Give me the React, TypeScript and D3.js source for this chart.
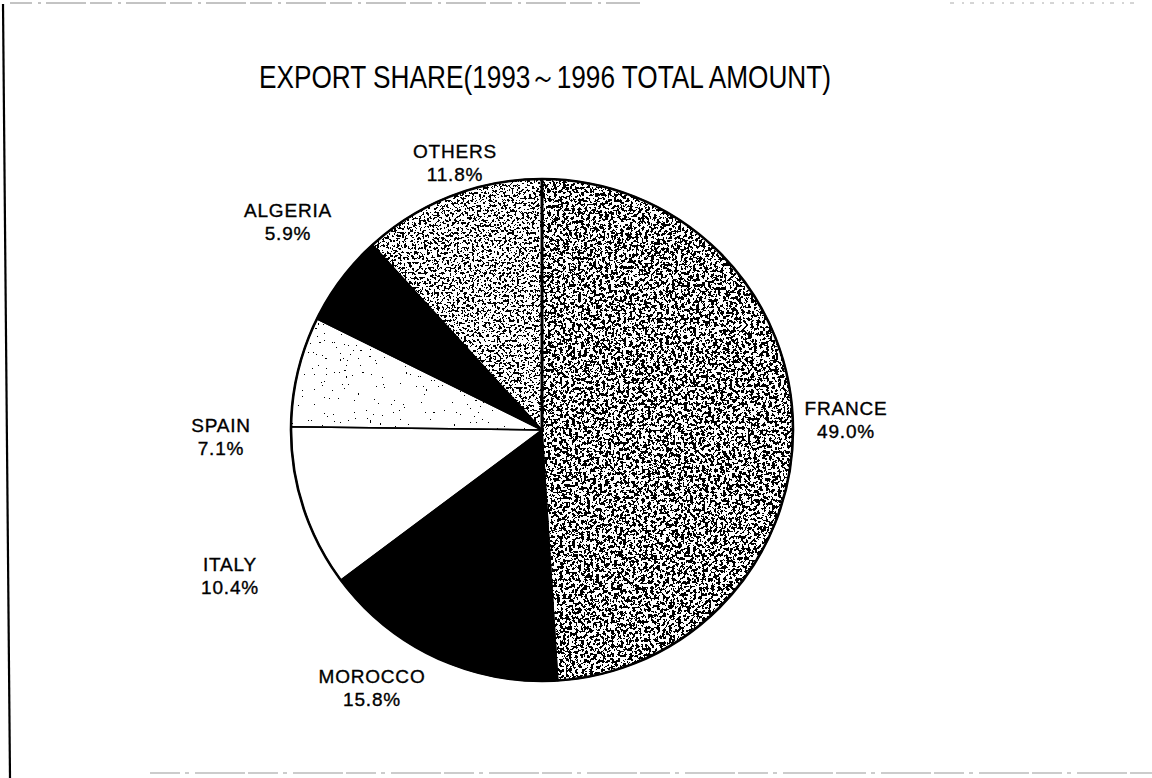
import React from "react";
import * as d3 from "d3";

const categories = ["FRANCE", "MOROCCO", "ITALY", "SPAIN", "ALGERIA", "OTHERS"];
const shares = [49.0, 15.8, 10.4, 7.1, 5.9, 11.8];
const titleText = "EXPORT SHARE(1993～1996 TOTAL AMOUNT)";

// layout / style (not data)
const W = 1152;
const H = 778;
const CX = 542;
const CY = 430;
const R = 251;
// label anchor offsets from pie centre (first line baseline)
const labelOffsets: [number, number][] = [
  [304, -15],
  [-170, 253],
  [-312, 141],
  [-321, 2],
  [-254, -213],
  [-87, -272],
];
type SliceStyle = { fill: string; texture?: { th: number; freq: number; oct: number; seed: number } };
const sliceStyles: SliceStyle[] = [
  { fill: "#ffffff", texture: { th: 0.52, freq: 0.33, oct: 3, seed: 4 } },
  { fill: "#000000" },
  { fill: "#ffffff" },
  { fill: "#ffffff", texture: { th: 0.74, freq: 0.5, oct: 2, seed: 9 } },
  { fill: "#000000" },
  { fill: "#ffffff", texture: { th: 0.55, freq: 0.4, oct: 3, seed: 11 } },
];

function tableFor(th: number): string {
  const n = 50;
  const v: number[] = [];
  for (let i = 0; i < n; i++) v.push(i / n >= th ? 1 : 0);
  return v.join(" ");
}

export default function App() {
  const pie = d3
    .pie<number>()
    .sort(null)
    .startAngle(0)
    .endAngle(2 * Math.PI)
    .value((d) => d);
  const arcs = pie(shares);
  const arc = d3.arc<d3.PieArcDatum<number>>().innerRadius(0).outerRadius(R);
  const fmt = (v: number) => d3.format(".1f")(v) + "%";
  const labelFont = "'Liberation Sans', Arial, sans-serif";

  return (
    <svg
      width={W}
      height={H}
      viewBox={`0 0 ${W} ${H}`}
      style={{ position: "absolute", left: 0, top: 0, background: "#fff" }}
    >
      <defs>
        {sliceStyles.map((s, i) =>
          s.texture ? (
            <filter
              key={i}
              id={`tex${i}`}
              x="0"
              y="0"
              width="1"
              height="1"
              colorInterpolationFilters="sRGB"
            >
              <feTurbulence
                type="fractalNoise"
                baseFrequency={s.texture.freq}
                numOctaves={s.texture.oct}
                seed={s.texture.seed}
                result="noise"
              />
              <feColorMatrix
                in="noise"
                type="matrix"
                values="0 0 0 0 0  0 0 0 0 0  0 0 0 0 0  1 0 0 0 0"
                result="na"
              />
              <feComponentTransfer in="na" result="dots">
                <feFuncA type="discrete" tableValues={tableFor(s.texture.th)} />
              </feComponentTransfer>
              <feComposite in="dots" in2="SourceAlpha" operator="in" result="clipped" />
              <feMerge>
                <feMergeNode in="SourceGraphic" />
                <feMergeNode in="clipped" />
              </feMerge>
            </filter>
          ) : null
        )}
      </defs>
      <rect x={0} y={0} width={W} height={H} fill="#fff" />

      {/* scan artefacts: page frame */}
      <line x1={3} y1={4} x2={10} y2={H} stroke="#000" strokeWidth={2.2} />
      <line x1={10} y1={3} x2={640} y2={3} stroke="#888" strokeWidth={1} strokeDasharray="22 6 3 5 40 4" />
      <line x1={950} y1={3} x2={1140} y2={3} stroke="#aaa" strokeWidth={1} strokeDasharray="4 8 2 6" />
      <line x1={150} y1={773} x2={1152} y2={773} stroke="#999" strokeWidth={1} strokeDasharray="30 5 4 6 50 3" />

      <text
        x={545}
        y={88}
        textAnchor="middle"
        fontFamily="'Liberation Sans Narrow', 'Liberation Sans', Arial, sans-serif"
        fontSize={31}
        textLength={572}
        lengthAdjust="spacingAndGlyphs"
        fill="#000"
      >
        {titleText}
      </text>

      <g transform={`translate(${CX},${CY})`}>
        {arcs.map((a, i) => (
          <path
            key={`f${i}`}
            d={arc(a) || ""}
            fill={sliceStyles[i].fill}
            filter={sliceStyles[i].texture ? `url(#tex${i})` : undefined}
          />
        ))}
        {arcs.map((a, i) => (
          <path key={`s${i}`} d={arc(a) || ""} fill="none" stroke="#000" strokeWidth={1.5} />
        ))}
        <circle r={R} fill="none" stroke="#000" strokeWidth={2.6} />
        <line x1={0} y1={0} x2={0} y2={-R} stroke="#000" strokeWidth={3} />
      </g>

      <g
        fontFamily={labelFont}
        fontSize={19}
        letterSpacing={0.8}
        fill="#000"
        stroke="#000"
        strokeWidth={0.35}
        textAnchor="middle"
      >
        {categories.map((c, i) => {
          const [dx, dy] = labelOffsets[i];
          return (
            <g key={c}>
              <text x={CX + dx} y={CY + dy}>
                {c}
              </text>
              <text x={CX + dx} y={CY + dy + 23}>
                {fmt(shares[i])}
              </text>
            </g>
          );
        })}
      </g>
    </svg>
  );
}
